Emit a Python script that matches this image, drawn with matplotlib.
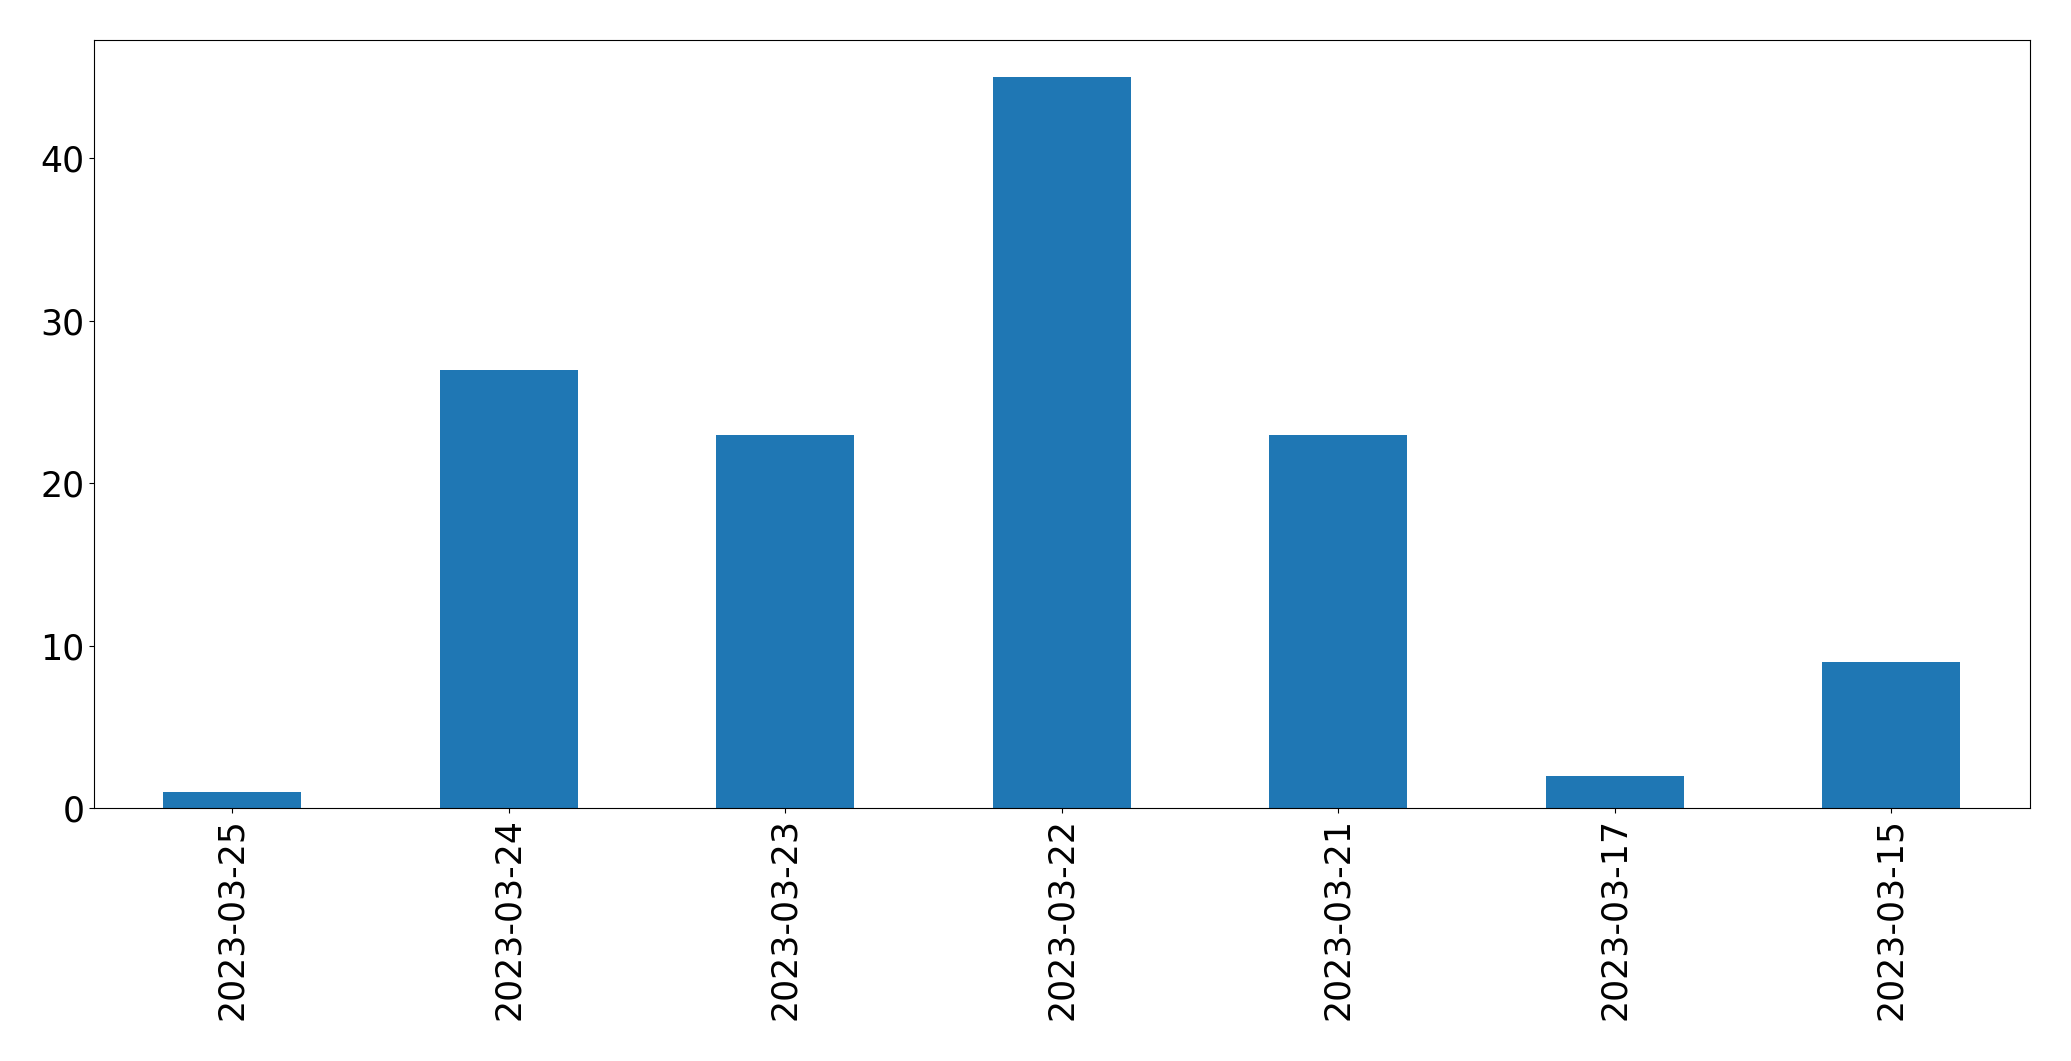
import matplotlib
matplotlib.use("Agg")
import matplotlib.pyplot as plt
import pandas as pd

# counts per day
dates = ["2023-03-25", "2023-03-24", "2023-03-23", "2023-03-22",
         "2023-03-21", "2023-03-17", "2023-03-15"]
counts = [1, 27, 23, 45, 23, 2, 9]

s = pd.Series(counts, index=dates)

fig, ax = plt.subplots(figsize=(20.71, 10.61), dpi=100)
s.plot(kind="bar", ax=ax, color="#1f77b4")
ax.tick_params(axis="both", labelsize=25)
ax.set_xlabel("")

plt.subplots_adjust(left=0.0454, right=0.980, top=0.962, bottom=0.238)
plt.savefig("out.png", dpi=100)
